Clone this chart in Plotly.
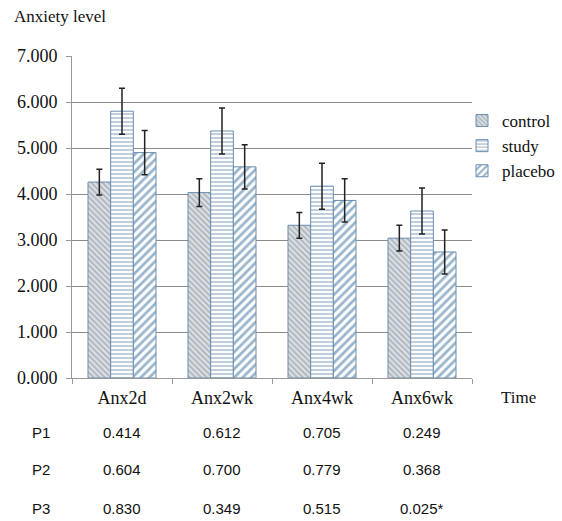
import plotly.graph_objects as go

categories = ["Anx2d", "Anx2wk", "Anx4wk", "Anx6wk"]
control = [4.26, 4.03, 3.32, 3.04]
control_err = [0.28, 0.30, 0.28, 0.28]
study = [5.80, 5.37, 4.17, 3.63]
study_err = [0.50, 0.50, 0.50, 0.50]
placebo = [4.90, 4.59, 3.86, 2.74]
placebo_err = [0.48, 0.48, 0.47, 0.48]

p_labels = ["P1", "P2", "P3"]
p1 = ["0.414", "0.612", "0.705", "0.249"]
p2 = ["0.604", "0.700", "0.779", "0.368"]
p3 = ["0.830", "0.349", "0.515", "0.025*"]

serif = "Liberation Serif"
sans = "Liberation Sans"

L, R, T, B = 72, 90, 56, 143
W, H = 562, 521
PW, PH = W - L - R, H - T - B

fig = go.Figure()

def add(name, vals, errs, shape, fg, bg, size, solidity):
    fig.add_trace(go.Bar(
        name=name, x=categories, y=vals,
        error_y=dict(type="data", array=errs, color="#222222", thickness=1.5, width=3),
        marker=dict(
            color=bg,
            line=dict(color="#6a8db0", width=1),
            pattern=dict(shape=shape, fgcolor=fg, bgcolor=bg, size=size, solidity=solidity),
        ),
    ))

add("control", control, control_err, "\\", "#7f8994", "#dfe3e7", 4, 0.5)
add("study", study, study_err, "-", "#6487a8", "#ffffff", 4, 0.4)
add("placebo", placebo, placebo_err, "/", "#2f6a98", "#ffffff", 6, 0.45)

fig.update_layout(
    width=W, height=H,
    margin=dict(l=L, r=R, t=T, b=B, autoexpand=False),
    paper_bgcolor="white", plot_bgcolor="white",
    barmode="group", bargap=0.32, bargroupgap=0,
    font=dict(family=serif, size=16, color="#111111"),
    showlegend=True,
    legend=dict(xref="container", yref="container", x=462/W, xanchor="left",
                y=1 - 103/H, yanchor="top",
                font=dict(family=serif, size=17), itemwidth=30,
                tracegroupgap=0, bgcolor="rgba(0,0,0,0)"),
    xaxis=dict(
        showline=True, linecolor="#999999", linewidth=1,
        ticks="outside", tickson="boundaries", ticklen=5, tickcolor="#999999",
        tickfont=dict(family=serif, size=18), ticklabelstandoff=3,
        showgrid=False,
    ),
    yaxis=dict(
        range=[0, 7], dtick=1, tickformat=".3f",
        showline=True, linecolor="#999999", linewidth=1,
        ticks="outside", ticklen=5, tickcolor="#999999",
        showgrid=True, gridcolor="#8c8c8c", gridwidth=1,
        tickfont=dict(family=serif, size=18), ticklabelstandoff=5,
        zeroline=False,
    ),
)

fig.add_annotation(text="Anxiety level", xref="paper", yref="paper",
                   x=(12-L)/PW, y=1 + (T-17)/PH, xanchor="left", yanchor="middle",
                   showarrow=False, font=dict(family=serif, size=17))
fig.add_annotation(text="Time", xref="paper", yref="paper",
                   x=(518-L)/PW, y=-(397-378)/PH, xanchor="center", yanchor="middle",
                   showarrow=False, font=dict(family=serif, size=17))

rows_y = [432, 470, 508]
for lab, vals, yy in zip(p_labels, [p1, p2, p3], rows_y):
    yp = -(yy - 378) / PH
    fig.add_annotation(text=lab, xref="paper", yref="paper",
                       x=(40.5-L)/PW, y=yp, xanchor="center", yanchor="middle",
                       showarrow=False, font=dict(family=sans, size=15))
    for c, v in zip(categories, vals):
        fig.add_annotation(text=v, xref="x", yref="paper", x=c, y=yp,
                           xanchor="center", yanchor="middle", showarrow=False,
                           font=dict(family=sans, size=15))

fig.write_html("out.html", config={"displayModeBar": False},
               post_script="document.body.style.margin='0';document.body.style.overflow='hidden';")
